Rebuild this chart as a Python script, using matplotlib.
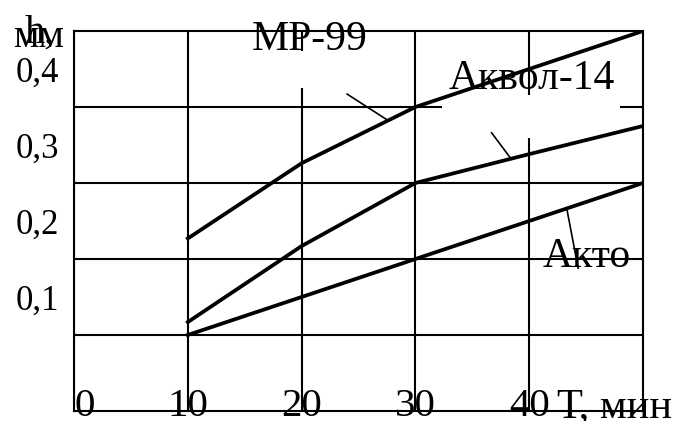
import numpy as np
import matplotlib
matplotlib.use("Agg")
import matplotlib.pyplot as plt
from matplotlib.patches import Rectangle
from matplotlib.transforms import ScaledTranslation

plt.rcParams['font.family'] = ['Liberation Serif', 'DejaVu Serif']

# Wear depth h (mm) versus time T (min) for three lubricants
time_min = [10, 20, 30, 40, 50]
h_mp99 = [0.227, 0.326, 0.400, 0.450, 0.500]
h_akvol14 = [0.117, 0.217, 0.300, 0.338, 0.375]
h_akto = [0.100, 0.150, 0.200, 0.250, 0.300]

series_names = ["МР-99", "Аквол-14", "Акто"]

x_ticks = [0, 10, 20, 30, 40]
x_tick_labels = ["0", "10", "20", "30", "40"]
y_ticks = [0.1, 0.2, 0.3, 0.4]
y_tick_labels = ["0,1", "0,2", "0,3", "0,4"]

W, H, DPI = 681, 421, 100
fig = plt.figure(figsize=(W / DPI, H / DPI), dpi=DPI)
ax = fig.add_axes([74 / W, 10 / H, 569 / W, 380 / H])

ax.set_xlim(0, 50)
ax.set_ylim(0, 0.5)

grid_lw = 1.5
ax.set_axisbelow(True)
ax.grid(True, color="black", linewidth=grid_lw)
for sp in ax.spines.values():
    sp.set_linewidth(grid_lw)
    sp.set_color("black")

# x tick labels sit on the bottom frame line
ax.set_xticks(x_ticks)
ax.set_xticklabels(x_tick_labels, fontsize=29.5)
ax.tick_params(axis="x", length=0, pad=3.6)
for i, tick in enumerate(ax.xaxis.get_major_ticks()):
    tick.label1.set_verticalalignment("baseline")
    if i == 0:
        tick.label1.set_horizontalalignment("left")

# y tick labels are written inside the cell above their grid line
ax.set_yticks(y_ticks)
ax.set_yticklabels(y_tick_labels, fontsize=25)
ax.tick_params(axis="y", length=0, pad=26.3)
lift = ScaledTranslation(0, 25 / DPI, fig.dpi_scale_trans)
for tick in ax.yaxis.get_major_ticks():
    tick.label1.set_horizontalalignment("center")
    tick.label1.set_verticalalignment("baseline")
    tick.label1.set_transform(tick.label1.get_transform() + lift)

# white label boxes that interrupt the grid
ax.add_patch(Rectangle((16.0, 0.425), 9.5, 0.0487, facecolor="white",
                       edgecolor="none", zorder=1))
ax.add_patch(Rectangle((32.34, 0.359), 15.64, 0.0568, facecolor="white",
                       edgecolor="none", zorder=1))

curve_lw = 2.7
for ys in (h_mp99, h_akvol14, h_akto):
    ax.plot(time_min, ys, color="black", linewidth=curve_lw,
            solid_joinstyle="round", zorder=3)

# curve labels with leader lines
label_fs = 30
ax.text(20.7, 0.475, series_names[0], fontsize=label_fs, ha="center",
        va="baseline", zorder=4)
ax.text(40.2, 0.4237, series_names[1], fontsize=label_fs, ha="center",
        va="baseline", zorder=4)
ax.text(45.1, 0.1895, series_names[2], fontsize=label_fs, ha="center",
        va="baseline", zorder=4)

leader_lw = 1.2
x_end = 27.6
ax.plot([24.0, x_end], [0.417, np.interp(x_end, time_min, h_mp99)],
        color="black", linewidth=leader_lw, zorder=3)
x_end = 38.4
ax.plot([36.7, x_end], [0.366, np.interp(x_end, time_min, h_akvol14)],
        color="black", linewidth=leader_lw, zorder=3)
x_start = 43.3
ax.plot([x_start, 44.3], [np.interp(x_start, time_min, h_akto), 0.188],
        color="black", linewidth=leader_lw, zorder=3)

# axis titles
ax.annotate("Т, мин", xy=(1, 0), xycoords="axes fraction",
            xytext=(-86, -6), textcoords="offset pixels",
            fontsize=30.5, ha="left", va="baseline")
fig.text(13 / W, (H - 47) / H, "мм", fontsize=29, ha="left", va="baseline")
fig.text(25 / W, (H - 43) / H, "h,", fontsize=29, ha="left", va="baseline")

fig.savefig("out.png", dpi=DPI)
